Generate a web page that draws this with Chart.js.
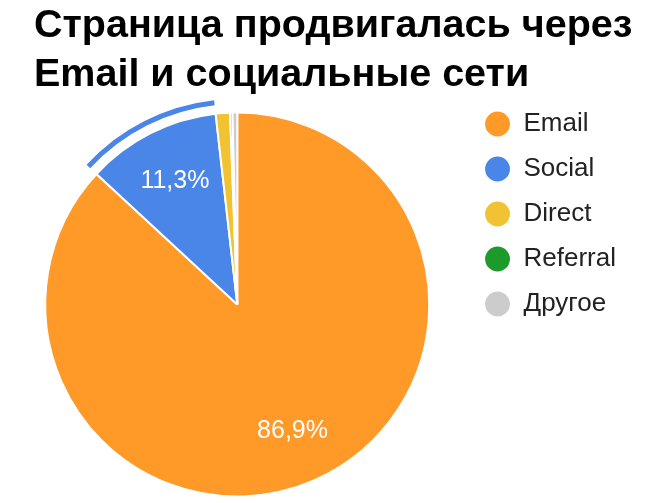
<!DOCTYPE html>
<html>
<head>
<meta charset="utf-8">
<script src="https://cdn.jsdelivr.net/npm/chart.js@4.4.0/dist/chart.umd.min.js"></script>
<style>
  html, body { margin: 0; padding: 0; background: #fff; overflow: hidden; }
  #wrap { position: relative; width: 661px; height: 503px; overflow: hidden; }
  #titre {
    position: absolute; left: 34px; top: -1px; margin: 0;
    font: bold 39.5px "Liberation Sans", Arial, sans-serif;
    line-height: 48.5px; color: #000; white-space: nowrap;
  }
  canvas { position: absolute; left: 0; top: 0; }
</style>
</head>
<body>
<div id="wrap">
  <canvas id="graph" width="661" height="520"></canvas>
  <h1 id="titre">Страница продвигалась через<br>Email и социальные сети</h1>
</div>
<script>
// données
const labels = ['Email', 'Social', 'Direct', 'Referral', 'Другое'];
const valeurs = [86.9, 11.3, 1.2, 0.2, 0.4];
const couleurs = ['#ff9a29', '#4a86e8', '#f1c232', '#1e9a2c', '#cccccc'];
const selection = 1; // part mise en avant (Social)

// pourcentages + anneau de sélection
const etiquettes = {
  id: 'etiquettes',
  afterDatasetsDraw(chart) {
    const ctx = chart.ctx;
    const meta = chart.getDatasetMeta(0);
    const total = valeurs.reduce((a, b) => a + b, 0);

    const sel = meta.data[selection];
    ctx.save();
    ctx.beginPath();
    ctx.arc(sel.x, sel.y, sel.outerRadius + 11, sel.startAngle, sel.endAngle);
    ctx.lineWidth = 5;
    ctx.strokeStyle = couleurs[selection];
    ctx.stroke();

    ctx.fillStyle = '#fff';
    ctx.font = '25px "Liberation Sans", Arial, sans-serif';
    ctx.textAlign = 'center';
    ctx.textBaseline = 'middle';
    meta.data.forEach((arc, i) => {
      const pct = valeurs[i] / total * 100;
      if (pct < 5) return;
      const mid = (arc.startAngle + arc.endAngle) / 2;
      const r = arc.outerRadius * 0.72;
      ctx.fillText(pct.toFixed(1).replace('.', ',') + '%', arc.x + Math.cos(mid) * r, arc.y + Math.sin(mid) * r);
    });
    ctx.restore();
  }
};

const ctx = document.getElementById('graph').getContext('2d');
const graph = new Chart(ctx, {
  type: 'pie',
  data: {
    labels: labels,
    datasets: [{
      data: valeurs,
      backgroundColor: couleurs,
      borderColor: '#fff',
      borderWidth: 2,
      radius: 192,
      hoverOffset: 0
    }]
  },
  options: {
    responsive: false,
    animation: false,
    layout: { padding: { left: 9, right: 35, top: 92, bottom: 3 } },
    plugins: {
      tooltip: { enabled: false },
      legend: {
        position: 'right',
        align: 'start',
        labels: {
          usePointStyle: true,
          pointStyle: 'circle',
          boxWidth: 26,
          boxHeight: 19,
          padding: 19,
          color: '#222',
          font: { size: 26, family: '"Liberation Sans", Arial, sans-serif' }
        }
      }
    }
  },
  plugins: [etiquettes]
});
</script>
</body>
</html>
